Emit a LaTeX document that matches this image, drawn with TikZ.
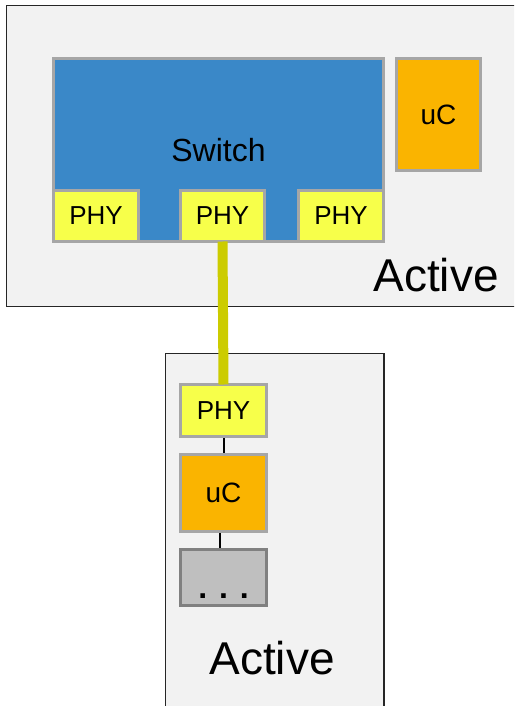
\documentclass[tikz,border=0pt]{standalone}
\usepackage{fontspec}
\setmainfont{Liberation Sans}
\definecolor{panelbg}{HTML}{F2F2F2}
\definecolor{panelline}{HTML}{262626}
\definecolor{boxline}{HTML}{A6A6A6}
\definecolor{switchblue}{HTML}{3A88C8}
\definecolor{phyyellow}{HTML}{F7FF4A}
\definecolor{ucorange}{HTML}{FAB400}
\definecolor{dotsgray}{HTML}{BFBFBF}
\definecolor{dotsline}{HTML}{808080}
\definecolor{linkgreen}{HTML}{CCCC00}
\begin{document}
\begin{tikzpicture}[x=1pt,y=-1pt,
  panel/.style={draw=panelline,fill=panelbg,line width=1.5pt},
  block/.style={draw=boxline,line width=3pt,inner sep=0pt,rectangle},
  phybox/.style={block,fill=phyyellow,font=\fontsize{26}{26}\selectfont},
  ucbox/.style={block,fill=ucorange,font=\fontsize{28}{28}\selectfont},
  switchbox/.style={block,fill=switchblue,font=\fontsize{32}{32}\selectfont},
  dotsbox/.style={block,draw=dotsline,fill=dotsgray,font=\fontsize{32}{32}\selectfont},
  activelbl/.style={inner sep=0pt,font=\fontsize{46}{46}\selectfont},
  thinlink/.style={draw=black,line width=1.2pt},
  greenlink/.style={draw=linkgreen,line width=10pt}]
\useasboundingbox (0,0) rectangle (514,706);
\clip (0,0) rectangle (514,706);
% panels
\path[panel] (6.5,5.5) rectangle (530,306.5);
\path[panel] (165.5,353.5) rectangle (384,720);
% top device
\node[switchbox,minimum width=330pt,minimum height=183pt] (sw) at (218.5,150) {\raisebox{-2pt}{Switch}};
\node[phybox,minimum width=85pt,minimum height=51pt] (p1) at (96,216) {\raisebox{-2pt}{PHY}};
\node[phybox,minimum width=84pt,minimum height=51pt] (p2) at (222.5,216) {\raisebox{-2pt}{PHY}};
\node[phybox,minimum width=85pt,minimum height=51pt] (p3) at (341,216) {\raisebox{-2pt}{PHY}};
\node[ucbox,minimum width=84pt,minimum height=112pt] (uc1) at (438.5,114.5) {uC};
\node[activelbl] (act1) at (436,275.5) {Active};
% bottom device
\node[phybox,minimum width=86pt,minimum height=52pt] (p4) at (223.5,410.5) {PHY};
\node[ucbox,minimum width=86pt,minimum height=77pt] (uc2) at (223.5,493) {uC};
\node[dotsbox,minimum width=86pt,minimum height=56pt] (dots) at (223.5,577.5) {\raisebox{-21pt}[0pt][0pt]{\textbf{. . .}}};
\node[activelbl] (act2) at (272,658.5) {Active};
% connectors
\draw[greenlink] ([yshift=1.5pt]p2.south) -- ([yshift=-1.5pt]p4.north);
\draw[thinlink] ([xshift=0.5pt]p4.south) -- ([xshift=0.5pt]uc2.north);
\draw[thinlink] ([xshift=-3.5pt]uc2.south) -- ([xshift=-3.5pt]dots.north);
\end{tikzpicture}
\end{document}
